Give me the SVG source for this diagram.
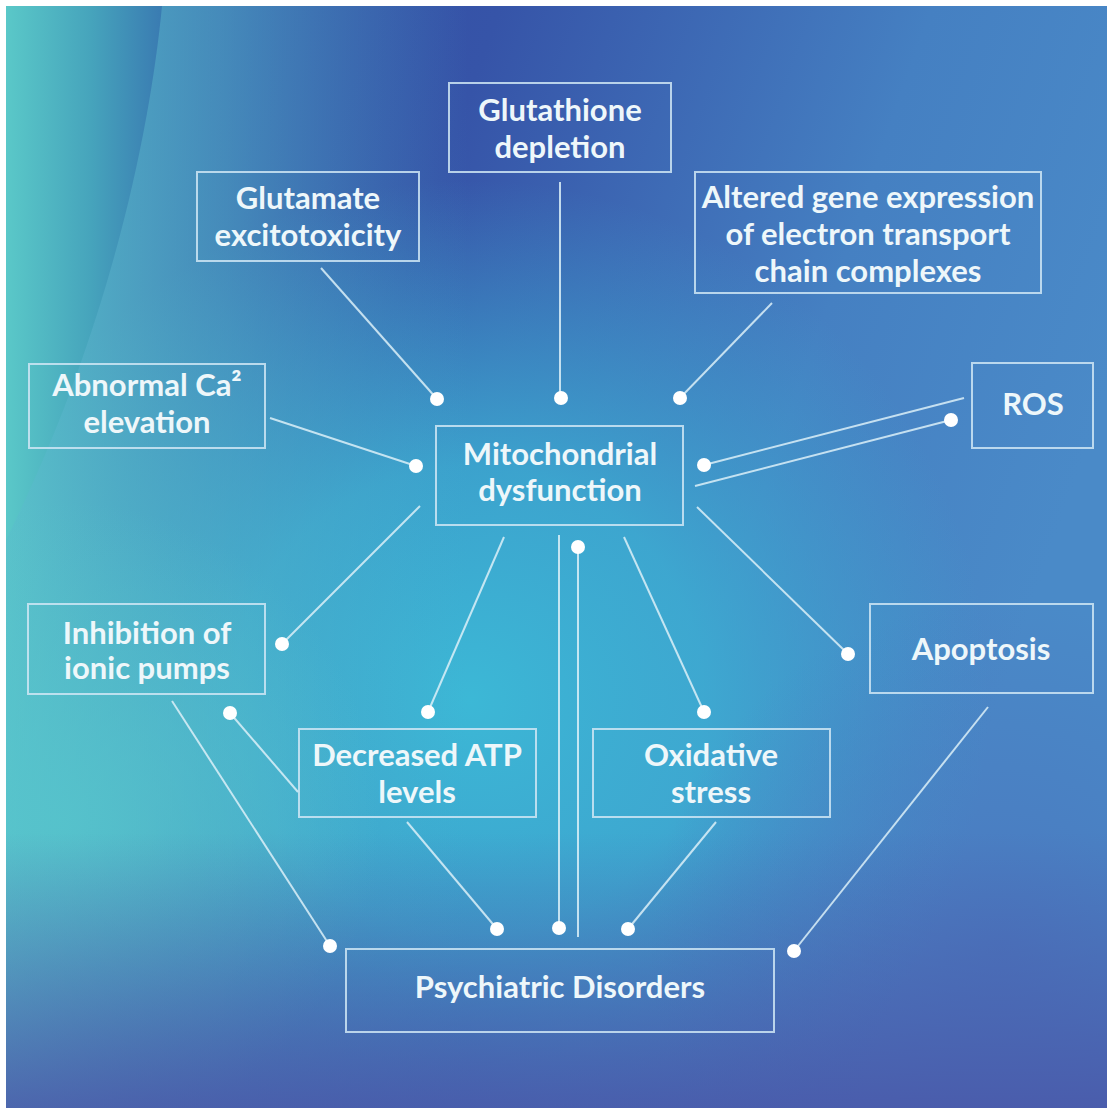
<svg xmlns="http://www.w3.org/2000/svg" width="1107" height="1110" viewBox="0 0 1107 1110">
<defs>
<linearGradient id="base" x1="0" y1="0" x2="1" y2="0.35">
<stop offset="0" stop-color="#3344a0"/>
<stop offset="0.4" stop-color="#3654a8"/>
<stop offset="0.75" stop-color="#4580c2"/>
<stop offset="1" stop-color="#4a8ac8"/>
</linearGradient>
<radialGradient id="cyan" cx="470" cy="700" r="520" gradientUnits="userSpaceOnUse">
<stop offset="0" stop-color="#3cb8d6" stop-opacity="1"/>
<stop offset="0.45" stop-color="#3cb2d4" stop-opacity="0.8"/>
<stop offset="1" stop-color="#3ca8d0" stop-opacity="0"/>
</radialGradient>
<linearGradient id="leftTeal" x1="0" y1="0" x2="1" y2="0">
<stop offset="0" stop-color="#5cc8cc" stop-opacity="0.95"/>
<stop offset="0.2" stop-color="#52bccc" stop-opacity="0.55"/>
<stop offset="0.42" stop-color="#48b0cc" stop-opacity="0"/>
</linearGradient>
<radialGradient id="lowLeft" cx="60" cy="820" r="320" gradientUnits="userSpaceOnUse">
<stop offset="0" stop-color="#56c4cc" stop-opacity="0.85"/>
<stop offset="1" stop-color="#56c4cc" stop-opacity="0"/>
</radialGradient>
<linearGradient id="corner" x1="6" y1="0" x2="160" y2="0" gradientUnits="userSpaceOnUse">
<stop offset="0" stop-color="#5ac8c8"/>
<stop offset="0.55" stop-color="#46a4bc"/>
<stop offset="1" stop-color="#3a7cb2"/>
</linearGradient>
<linearGradient id="bottom" x1="0" y1="0" x2="0" y2="1">
<stop offset="0.75" stop-color="#4a58a8" stop-opacity="0"/>
<stop offset="1" stop-color="#4a56a8" stop-opacity="0.85"/>
</linearGradient>
<radialGradient id="rightLow" cx="1000" cy="950" r="350" gradientUnits="userSpaceOnUse">
<stop offset="0" stop-color="#4a72bc" stop-opacity="0.7"/>
<stop offset="1" stop-color="#4a72bc" stop-opacity="0"/>
</radialGradient>
<style>
.box{fill:none;stroke:#cfe6f4;stroke-width:2;stroke-opacity:0.85}
.t{font-family:Lato,"Open Sans","Liberation Sans",sans-serif;font-weight:700;font-size:31px;fill:#eef7fa;text-anchor:middle}
.ln{stroke:#dcf0f8;stroke-width:2;stroke-opacity:0.85;fill:none}
.dot{fill:#ffffff}
</style>
</defs>
<g id="background">
<rect x="0" y="0" width="1107" height="1110" fill="#ffffff"/>
<rect x="6" y="6" width="1101" height="1102" fill="url(#base)"/>
<rect x="6" y="6" width="1101" height="1102" fill="url(#cyan)"/>
<rect x="6" y="6" width="1101" height="1102" fill="url(#rightLow)"/>
<rect x="6" y="6" width="1101" height="1102" fill="url(#leftTeal)"/>
<rect x="6" y="6" width="1101" height="1102" fill="url(#lowLeft)"/>
<path d="M6,6 L162,6 C150,130 110,330 6,540 Z" fill="url(#corner)"/>
<rect x="6" y="6" width="1101" height="1102" fill="url(#bottom)"/>
</g>
<g id="connectors">
<line class="ln" x1="321" y1="268" x2="437" y2="399"/>
<line class="ln" x1="560" y1="182" x2="560" y2="398"/>
<line class="ln" x1="772" y1="303" x2="680" y2="398"/>
<line class="ln" x1="270" y1="418" x2="416" y2="466"/>
<line class="ln" x1="964" y1="398" x2="704" y2="465"/>
<line class="ln" x1="951" y1="420" x2="695" y2="486"/>
<line class="ln" x1="420" y1="506" x2="282" y2="644"/>
<line class="ln" x1="504" y1="537" x2="428" y2="712"/>
<line class="ln" x1="559" y1="535" x2="559" y2="928"/>
<line class="ln" x1="578" y1="547" x2="578" y2="937"/>
<line class="ln" x1="624" y1="537" x2="704" y2="712"/>
<line class="ln" x1="697" y1="507" x2="848" y2="654"/>
<line class="ln" x1="172" y1="701" x2="330" y2="946"/>
<line class="ln" x1="230" y1="713" x2="298" y2="792"/>
<line class="ln" x1="407" y1="822" x2="497" y2="929"/>
<line class="ln" x1="716" y1="822" x2="628" y2="929"/>
<line class="ln" x1="988" y1="707" x2="794" y2="951"/>
<circle class="dot" cx="437" cy="399" r="7"/>
<circle class="dot" cx="561" cy="398" r="7"/>
<circle class="dot" cx="680" cy="398" r="7"/>
<circle class="dot" cx="416" cy="466" r="7"/>
<circle class="dot" cx="704" cy="465" r="7"/>
<circle class="dot" cx="951" cy="420" r="7"/>
<circle class="dot" cx="282" cy="644" r="7"/>
<circle class="dot" cx="428" cy="712" r="7"/>
<circle class="dot" cx="578" cy="547" r="7"/>
<circle class="dot" cx="704" cy="712" r="7"/>
<circle class="dot" cx="848" cy="654" r="7"/>
<circle class="dot" cx="230" cy="713" r="7"/>
<circle class="dot" cx="330" cy="946" r="7"/>
<circle class="dot" cx="497" cy="929" r="7"/>
<circle class="dot" cx="559" cy="928" r="7"/>
<circle class="dot" cx="628" cy="929" r="7"/>
<circle class="dot" cx="794" cy="951" r="7"/>
</g>
<g id="glutathione">
<rect class="box" x="449" y="83" width="222" height="89"/>
<text class="t" x="560" y="121">Glutathione</text>
<text class="t" x="560" y="158">depletion</text>
</g>
<g id="glutamate">
<rect class="box" x="197" y="172" width="222" height="89"/>
<text class="t" x="308" y="209">Glutamate</text>
<text class="t" x="308" y="246">excitotoxicity</text>
</g>
<g id="altered">
<rect class="box" x="695" y="172" width="346" height="121"/>
<text class="t" x="868" y="208">Altered gene expression</text>
<text class="t" x="868" y="245">of electron transport</text>
<text class="t" x="868" y="282">chain complexes</text>
</g>
<g id="calcium">
<rect class="box" x="29" y="364" width="236" height="84"/>
<text class="t" x="147" y="396">Abnormal Ca²</text>
<text class="t" x="147" y="433">elevation</text>
</g>
<g id="ros">
<rect class="box" x="972" y="363" width="121" height="85"/>
<text class="t" x="1033" y="415">ROS</text>
</g>
<g id="mitochondrial">
<rect class="box" x="436" y="426" width="247" height="99"/>
<text class="t" x="560" y="465">Mitochondrial</text>
<text class="t" x="560" y="501">dysfunction</text>
</g>
<g id="ionic">
<rect class="box" x="28" y="604" width="237" height="90"/>
<text class="t" x="147" y="644">Inhibition of</text>
<text class="t" x="147" y="679">ionic pumps</text>
</g>
<g id="apoptosis">
<rect class="box" x="870" y="604" width="223" height="89"/>
<text class="t" x="981" y="660">Apoptosis</text>
</g>
<g id="atp">
<rect class="box" x="299" y="729" width="237" height="88"/>
<text class="t" x="417" y="766">Decreased ATP</text>
<text class="t" x="417" y="803">levels</text>
</g>
<g id="oxidative">
<rect class="box" x="593" y="729" width="237" height="88"/>
<text class="t" x="711" y="766">Oxidative</text>
<text class="t" x="711" y="803">stress</text>
</g>
<g id="psychiatric">
<rect class="box" x="346" y="949" width="428" height="83"/>
<text class="t" x="560" y="998">Psychiatric Disorders</text>
</g>
</svg>
